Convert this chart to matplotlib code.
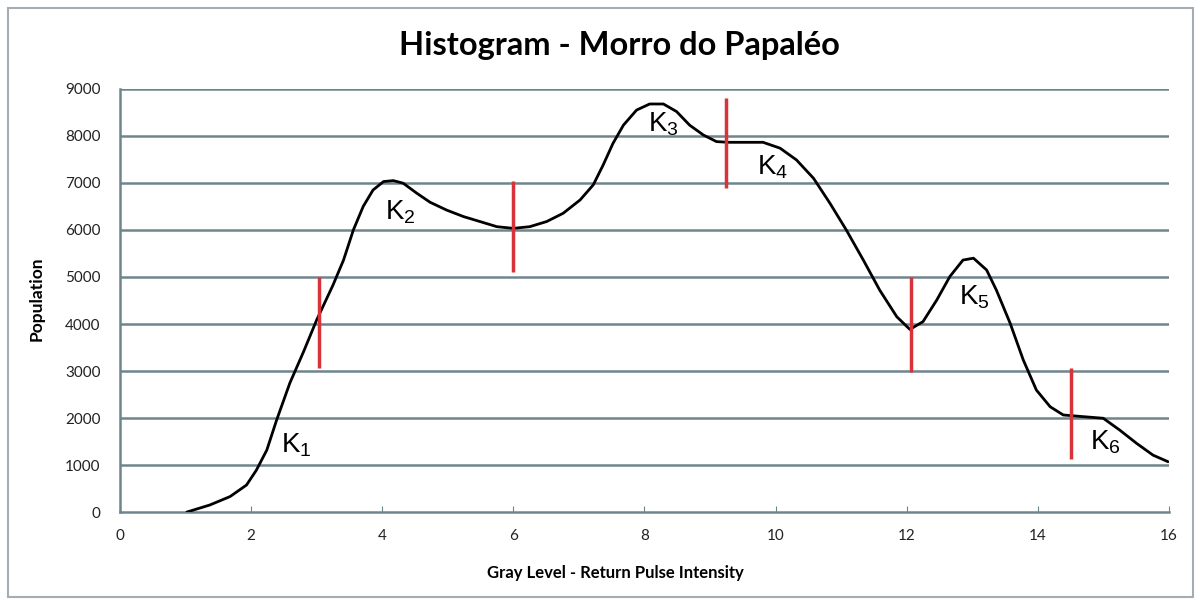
import numpy as np
import matplotlib
matplotlib.use("Agg")
import matplotlib.pyplot as plt
from matplotlib.patches import Rectangle

plt.rcParams["mathtext.fontset"] = "custom"
plt.rcParams["mathtext.rm"] = "Liberation Sans"
plt.rcParams["mathtext.it"] = "Liberation Sans"
plt.rcParams["mathtext.default"] = "regular"

# curve (gray level, population)
gray_level = [1.02, 1.37, 1.68, 1.93, 2.08, 2.24, 2.39, 2.59, 2.80, 3.0, 3.25, 3.41, 3.56,
              3.71, 3.86, 4.02, 4.17, 4.32, 4.53, 4.73, 4.98, 5.24, 5.49, 5.75, 6.0, 6.25,
              6.51, 6.76, 7.02, 7.22, 7.37, 7.52, 7.68, 7.88, 8.08, 8.29, 8.49, 8.69, 8.90,
              9.10, 9.28, 9.51, 9.81, 10.07, 10.32, 10.58, 10.83, 11.08, 11.34, 11.59,
              11.85, 12.05, 12.25, 12.46, 12.66, 12.86, 13.02, 13.22, 13.37, 13.58, 13.78,
              13.98, 14.19, 14.39, 14.69, 15.0, 15.25, 15.51, 15.76, 15.99]
population = [0, 150, 330, 575, 890, 1320, 1960, 2740, 3410, 4085, 4830, 5360, 6000,
              6500, 6850, 7030, 7050, 6995, 6780, 6590, 6425, 6285, 6180, 6070, 6035, 6070,
              6180, 6355, 6640, 6960, 7380, 7840, 8230, 8550, 8680, 8680, 8520, 8230, 8020,
              7880, 7865, 7865, 7865, 7740, 7490, 7100, 6570, 6000, 5360, 4720,
              4155, 3885, 4050, 4510, 5010, 5360, 5400, 5150, 4720, 4015, 3235,
              2595, 2240, 2065, 2030, 1995, 1745, 1460, 1210, 1070]

# red class boundaries
cut_x = [3.04, 6.0, 9.25, 12.07, 14.51]
cut_lo = [3060, 5110, 6900, 2985, 1120]
cut_hi = [5000, 7050, 8800, 5000, 3055]

# cluster labels
k_names = ["1", "2", "3", "4", "5", "6"]
k_x = [2.45, 4.05, 8.05, 9.72, 12.8, 14.8]
k_y = [1430, 6380, 8250, 7340, 4570, 1490]

grid_col = "#6f858e"

fig = plt.figure(figsize=(12, 6.01), dpi=100)
fig.patches.append(Rectangle((0.007, 0.007), 0.987, 0.98, transform=fig.transFigure,
                             fill=False, edgecolor="#a3adb2", lw=1.5))

ax = fig.add_axes([0.1, 0.148, 0.874, 0.704])
ax.set_xlim(0, 16)
ax.set_ylim(0, 9000)

for v in range(1000, 10000, 1000):
    ax.axhline(v, color=grid_col, lw=1.8, zorder=1)

ax.plot(gray_level, population, color="black", lw=2, zorder=3,
        solid_joinstyle="round", solid_capstyle="round")
ax.vlines(cut_x, cut_lo, cut_hi, color="#d8323a", lw=2.5, zorder=4)

for n, x, y in zip(k_names, k_x, k_y):
    ax.text(x, y, "K$_{%s}$" % n, fontsize=20, family="Liberation Sans",
            va="center", ha="left", zorder=5)

for s in ["top", "right"]:
    ax.spines[s].set_visible(False)
for s in ["left", "bottom"]:
    ax.spines[s].set_color(grid_col)
    ax.spines[s].set_linewidth(1.8)

ax.set_xticks(range(0, 17, 2))
ax.set_yticks(range(0, 10000, 1000))
ax.tick_params(axis="x", direction="in", length=4, color=grid_col, pad=12, labelsize=11)
ax.tick_params(axis="y", length=0, pad=14, labelsize=11)
for lab in ax.get_xticklabels() + ax.get_yticklabels():
    lab.set_family("Lato")
    lab.set_color("#222222")

ax.set_xlabel("Gray Level - Return Pulse Intensity", family="Lato", fontsize=12, fontweight="bold")
ax.xaxis.set_label_coords(0.472, -0.125)
ax.set_ylabel("Population", family="Lato", fontsize=12.5, fontweight="bold")
ax.yaxis.set_label_coords(-0.0715, 0.505)

fig.text(0.516, 0.925, "Histogram - Morro do Papaléo", family="Lato", fontweight="bold",
         fontsize=23.5, ha="center", va="center")

fig.savefig("out.png", dpi=100)
